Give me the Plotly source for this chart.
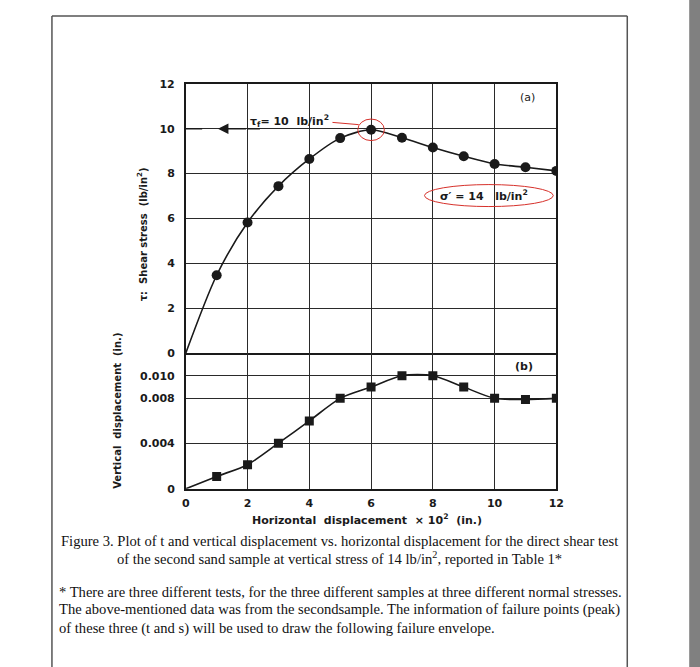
import plotly.graph_objects as go

# ---- data ----
x_disp = [0, 1, 2, 3, 4, 5, 6, 7, 8, 9, 10, 11, 12]
shear_stress = [0, 3.47, 5.82, 7.44, 8.65, 9.58, 9.95, 9.6, 9.16, 8.77, 8.43, 8.28, 8.12]
x_vert = [0, 1, 2, 3, 4, 5, 6, 7, 8, 9, 10, 11, 12]
vert_disp = [0, 0.00109, 0.00213, 0.00403, 0.0060, 0.0080, 0.0090, 0.0100, 0.0100, 0.0090, 0.0080, 0.0079, 0.0080]
x_ticks = [0, 2, 4, 6, 8, 10, 12]
y1_ticks = [0, 2, 4, 6, 8, 10, 12]
y2_ticks = [0, 0.004, 0.008, 0.010]
y2_labels = ["0", "0.004", "0.008", "0.010"]
peak_x, peak_y = 6, 9.95

W, H = 700, 667
SX, OX, SY, OY = 0.984, 4.0, 0.983, 5.0   # observed capture transform
def px(xp):  # reference pixel x -> paper
    return ((xp - OX) / SX) / W
def py(yp):  # reference pixel y (top-down) -> paper
    return 1 - ((yp - OY) / SY) / H

SANS = "DejaVu Sans"
SERIF = "Liberation Serif"
INK = "#1a1a1a"

fig = go.Figure()
fig.add_trace(go.Scatter(x=x_disp, y=shear_stress, mode="lines", line=dict(color=INK, width=1.6, shape="spline", smoothing=0.8),
                         xaxis="x", yaxis="y", hoverinfo="skip", showlegend=False))
fig.add_trace(go.Scatter(x=x_disp[1:], y=shear_stress[1:], mode="markers",
                         marker=dict(symbol="circle", size=10, color=INK),
                         xaxis="x", yaxis="y", showlegend=False))
fig.add_trace(go.Scatter(x=x_vert, y=vert_disp, mode="lines", line=dict(color=INK, width=1.6, shape="spline", smoothing=0.8),
                         xaxis="x2", yaxis="y2", hoverinfo="skip", showlegend=False))
fig.add_trace(go.Scatter(x=x_vert[1:], y=vert_disp[1:], mode="markers",
                         marker=dict(symbol="square", size=9, color=INK),
                         xaxis="x2", yaxis="y2", showlegend=False))

xdom = [px(186), px(557)]
ax_common = dict(showline=True, linecolor=INK, linewidth=1.6, gridcolor="#2a2a2a", gridwidth=1.3,
                 zeroline=False, ticks="", fixedrange=True)
tickfont = dict(family=SANS, size=11, color=INK, weight="bold")

fig.update_layout(
    width=W, height=H, margin=dict(l=0, r=0, t=0, b=0),
    paper_bgcolor="white", plot_bgcolor="white",
    xaxis=dict(domain=xdom, anchor="y", range=[0, 12], tickvals=x_ticks, showticklabels=False, mirror=True, **ax_common),
    yaxis=dict(domain=[py(353), py(83)], anchor="x", range=[0, 12], tickvals=y1_ticks, tickfont=tickfont,
               ticklabelstandoff=7, mirror=True, **ax_common),
    xaxis2=dict(domain=xdom, anchor="y2", range=[0, 12], tickvals=x_ticks, tickfont=tickfont,
                ticklabelstandoff=3, mirror=False, **ax_common),
    yaxis2=dict(domain=[py(489), py(353)], anchor="x2", range=[0, 0.012], tickvals=y2_ticks,
                ticktext=y2_labels, tickfont=tickfont, ticklabelstandoff=7, mirror=True, **ax_common),
)

ann = []
# axis titles
ann.append(dict(x=px(367), y=py(520), xref="paper", yref="paper", showarrow=False, xanchor="center", yanchor="middle",
                text="Horizontal  displacement  × 10<sup>2</sup>  (in.)", font=dict(family=SANS, size=11, color=INK, weight="bold")))
ann.append(dict(x=px(143), y=py(234), xref="paper", yref="paper", showarrow=False, textangle=-90,
                xanchor="center", yanchor="middle",
                text="τ:  Shear stress  (lb/in<sup>2</sup>)", font=dict(family=SANS, size=10, color=INK, weight="bold")))
ann.append(dict(x=px(118), y=py(411), xref="paper", yref="paper", showarrow=False, textangle=-90,
                xanchor="center", yanchor="middle",
                text="Vertical  displacement  (in.)", font=dict(family=SANS, size=10, color=INK, weight="bold")))
# panel labels
ann.append(dict(x=11.05, y=11.4, xref="x", yref="y", text="(a)", showarrow=False,
                font=dict(family=SANS, size=11, color=INK)))
ann.append(dict(x=10.95, y=0.0108, xref="x2", yref="y2", text="(b)", showarrow=False,
                font=dict(family=SANS, size=11, color=INK, weight="bold")))
# peak annotation
ann.append(dict(x=2.0, y=10, xref="x", yref="y", xanchor="left", yanchor="bottom", yshift=-2,
                text="τ<sub>f</sub>= 10  lb/in<sup>2</sup>", showarrow=False,
                font=dict(family=SANS, size=11, color=INK, weight="bold")))
ann.append(dict(x=1.04, y=10, xref="x", yref="y", ax=2.0, ay=10, axref="x", ayref="y", text="",
                showarrow=True, arrowhead=2, arrowsize=1.4, arrowwidth=1.5, arrowcolor=INK))
ann.append(dict(x=9.67, y=7.02, xref="x", yref="y", text="σ′ = 14   lb/in<sup>2</sup>", showarrow=False,
                font=dict(family=SANS, size=11, color=INK, weight="bold")))
# caption
cap = dict(family=SERIF, size=14.6, color="#111")
ann.append(dict(x=px(340), y=py(541), xref="paper", yref="paper", showarrow=False, font=cap,
                xanchor="center", yanchor="middle",
                text="Figure 3. Plot of t and vertical displacement vs. horizontal displacement for the direct shear test"))
ann.append(dict(x=px(340), y=py(558), xref="paper", yref="paper", showarrow=False, font=cap,
                xanchor="center", yanchor="middle",
                text="of the second sand sample at vertical stress of 14 lb/in<sup>2</sup>, reported in Table 1*"))
para = ["* There are three different tests, for the three different samples at three different normal stresses.",
        "The above-mentioned data was from the secondsample. The information of failure points (peak)",
        "of these three (t and s) will be used to draw the following failure envelope."]
for i, t in enumerate(para):
    ann.append(dict(x=px(57), y=py(592 + 18.5 * i), xref="paper", yref="paper", showarrow=False,
                    xanchor="left", yanchor="middle", font=cap, text=t))
fig.update_layout(annotations=ann)

shapes = [
    # frame
    dict(type="line", xref="paper", yref="paper", x0=px(52), x1=px(52), y0=py(15), y1=-0.02, line=dict(color="#555", width=1.5)),
    dict(type="line", xref="paper", yref="paper", x0=px(52), x1=px(628), y0=py(15), y1=py(15), line=dict(color="#555", width=1.5)),
    dict(type="line", xref="paper", yref="paper", x0=px(628), x1=px(628), y0=py(15), y1=-0.02, line=dict(color="#555", width=1.5)),
    # gray band at right
    dict(type="rect", xref="paper", yref="paper", x0=px(690), x1=1.02, y0=-0.02, y1=1.02, fillcolor="#808080", line=dict(width=0)),
    # solid pieces of the peak line
    dict(type="line", xref="x", yref="y", x0=0, x1=0.53, y0=10, y1=10, line=dict(color=INK, width=1.5)),
    dict(type="line", xref="x", yref="y", x0=2.0, x1=2.4, y0=10, y1=10, line=dict(color=INK, width=1.5)),
    # red highlights
    dict(type="circle", xref="x", yref="y", x0=peak_x - 0.43, x1=peak_x + 0.43, y0=peak_y - 0.48, y1=peak_y + 0.48,
         line=dict(color="#d6312b", width=1)),
    dict(type="line", xref="x", yref="y", x0=4.75, x1=5.6, y0=10.28, y1=10.18, line=dict(color="#d6312b", width=1)),
    dict(type="circle", xref="x", yref="y", x0=7.73, x1=11.9, y0=6.53, y1=7.51, line=dict(color="#d6312b", width=1)),
]
fig.update_layout(shapes=shapes)

fig.write_html("out.html", config={"displayModeBar": False},
               post_script="document.body.style.margin='0';document.body.style.overflow='hidden';")
